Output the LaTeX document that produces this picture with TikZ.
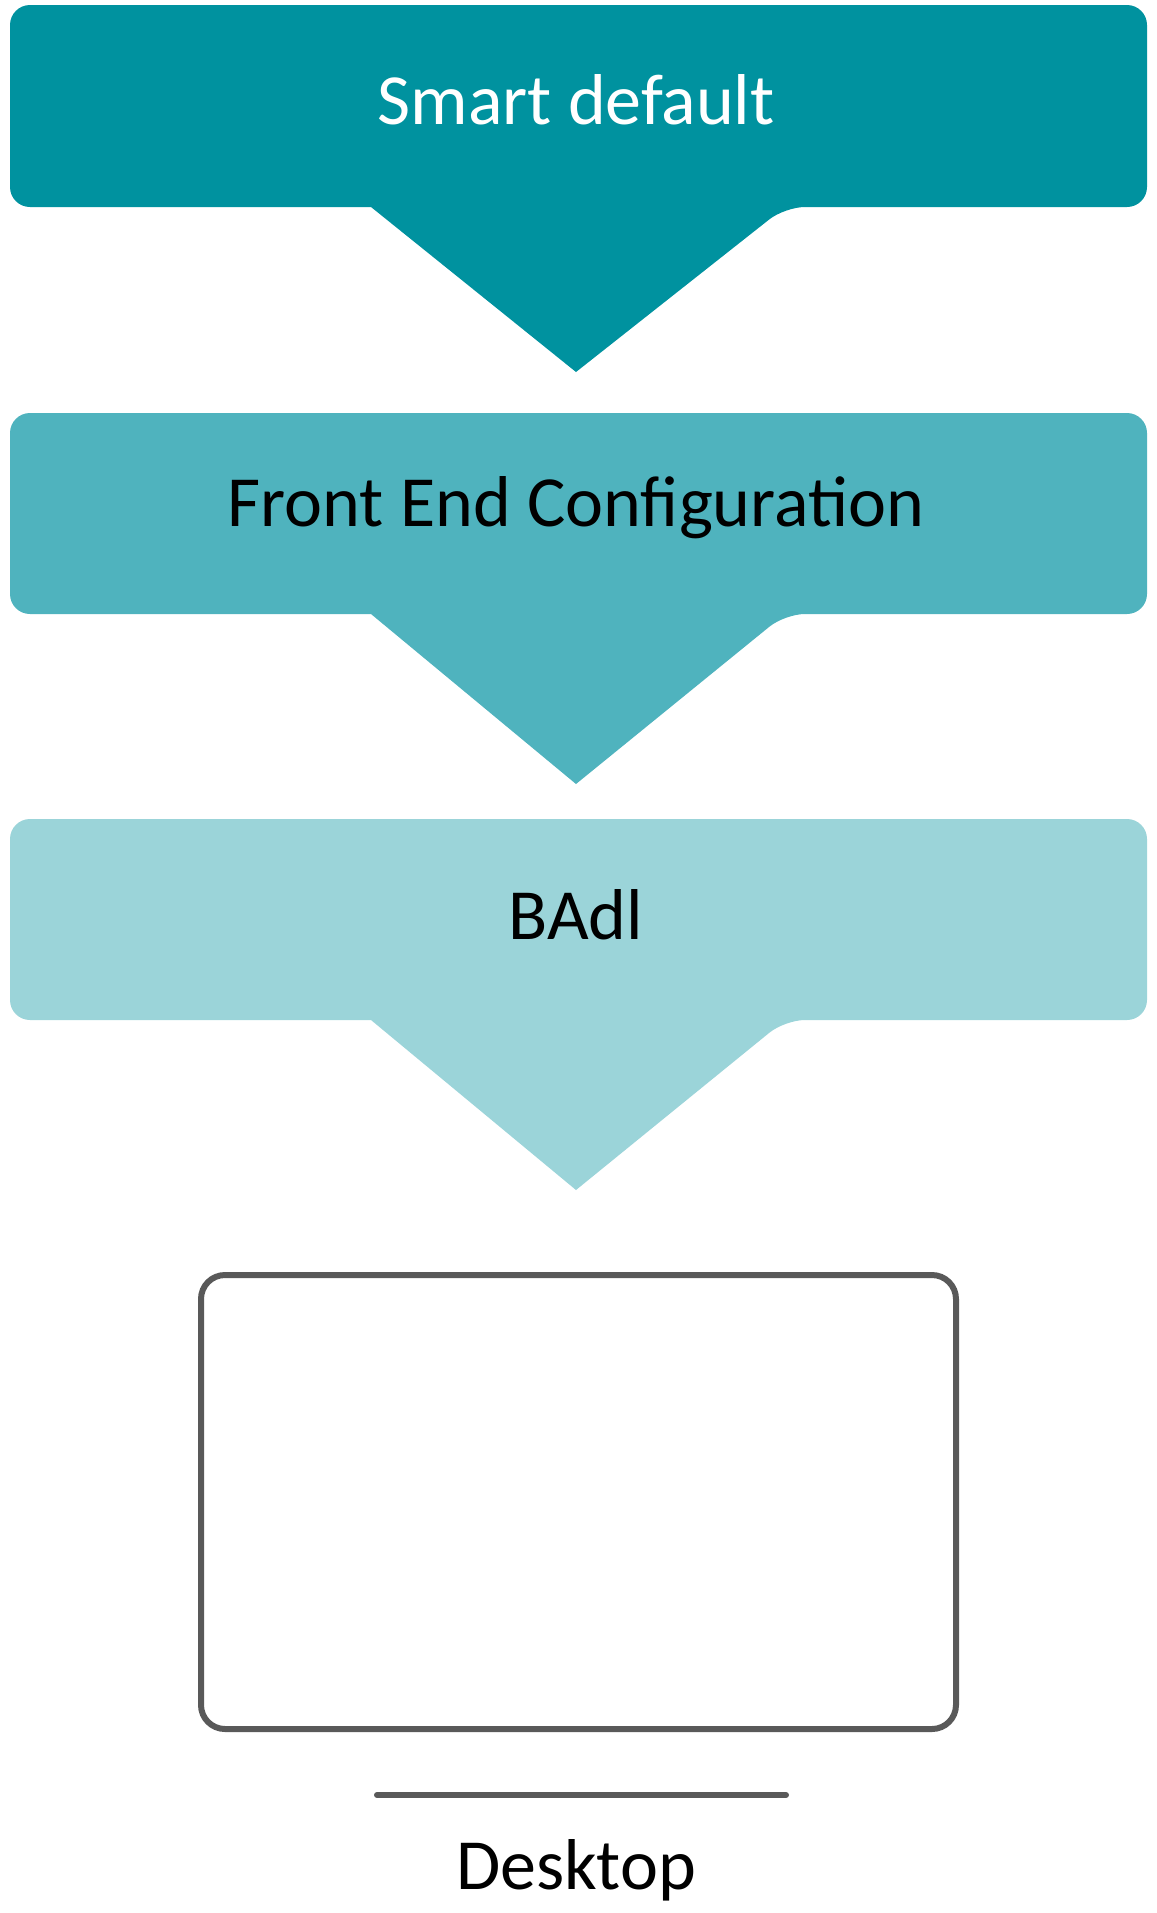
\documentclass[tikz,border=0pt]{standalone}
\usepackage{fontspec}
\setmainfont{Carlito}
\definecolor{c1}{HTML}{00929F}
\definecolor{c2}{HTML}{4FB3BE}
\definecolor{c3}{HTML}{9BD4D9}
\definecolor{gr}{HTML}{595959}
\begin{document}
\begin{tikzpicture}[x=0.5pt,y=-0.5pt,
  lbl/.style={font=\fontsize{36}{40}\selectfont},
  chev/.style={rounded corners=10pt}]
\useasboundingbox (0,0) rectangle (1157,1913);
\newcommand{\chevron}[5]{% top, bottom, point, color
  \fill[#4,chev] (10,#1) -- (1147,#1) -- (1147,#2) -- (785,#2) [sharp corners] -- (576,#3) -- (371,#2) [rounded corners=10pt] -- (10,#2) -- cycle;}
\chevron{5}{207}{372}{c1}{}
\chevron{413}{614}{784}{c2}{}
\chevron{819}{1020}{1190}{c3}{}
\node[lbl,text=white] (s) at (576,100) {Smart default};
\node[lbl] (f) at (576,508) {Front End Configuration};
\node[lbl] (b) at (576,915) {BAdl};
\draw[gr,line width=3pt,rounded corners=12pt] (201,1275) rectangle (956,1729);
\draw[gr,line width=3pt,line cap=round] (377,1795) -- (786,1795);
\node[lbl] (d) at (576,1870) {Desktop};
\end{tikzpicture}
\end{document}
